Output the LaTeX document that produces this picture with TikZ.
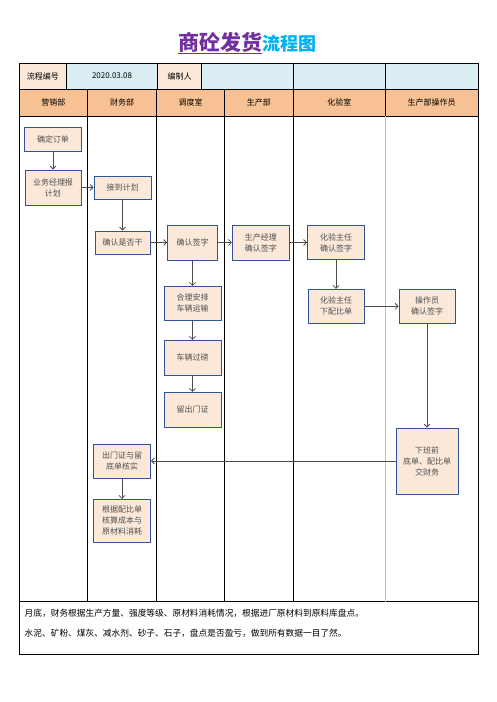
\documentclass[tikz,border=0pt]{standalone}
\usepackage{fontspec}
\setmainfont{Noto Sans CJK SC}
\usepackage{tikz}
\usepackage{xcolor}
\usetikzlibrary{arrows.meta}

\definecolor{titlepurple}{HTML}{7030A0}
\definecolor{titleblue}{HTML}{00B0F0}
\definecolor{headpeach}{HTML}{F8C193}
\definecolor{cellpeach}{HTML}{FCE9DA}
\definecolor{cellblue}{HTML}{DAEEF3}
\definecolor{boxfill}{HTML}{FBE8D9}
\definecolor{boxline}{HTML}{2F5597}
\definecolor{boxtext}{HTML}{505050}

\tikzset{
    box/.style={draw=boxline, fill=boxfill, line width=0.8pt, text=boxtext, font=\fontsize{8}{11}\selectfont, align=center, inner sep=1pt},
    flow/.style={draw=black!70, line width=0.8pt, -{Straight Barb[length=3pt,width=6pt]}},
    cell/.style={font=\fontsize{8}{10}\selectfont, inner sep=0pt},
    note/.style={font=\fontsize{8.7}{10}\selectfont, inner sep=0pt, anchor=west}
}

\begin{document}
\begin{tikzpicture}[x=1pt, y=-1pt]
                \useasboundingbox (0,0) rectangle (496,702);

                \node[] (title) at (247,43) {\textcolor{titlepurple}{\fontsize{21}{21}\selectfont\bfseries\underline{商砼发货}}\textcolor{titleblue}{\fontsize{18}{18}\selectfont\bfseries 流程图}};

                \fill[cellpeach] (19.5,63) rectangle (66.5,89) (157.5,63) rectangle (201.5,89);
                \fill[cellblue] (66.5,63) rectangle (157.5,89) (201.5,63) rectangle (478,89);
                \fill[headpeach] (19.5,89) rectangle (478,116);
                \draw[line width=0.9pt] (19.5,63) rectangle (478,654)
                (19.5,89) -- (478,89)
                (19.5,116) -- (478,116)
                (19.5,601.5) -- (478,601.5);
                \foreach \x in {66.5,157.5,201.5,293.3,385.5}
                    \draw[line width=0.9pt] (\x,63) -- (\x,89);
                \foreach \x in {87.3,156.7,224.3,293.3}
                    \draw[line width=0.9pt] (\x,89) -- (\x,601.5);
                \draw[line width=0.9pt] (385.5,89) -- (385.5,116);
                \draw[black!25, line width=0.9pt] (385.5,116) -- (385.5,601.5);

                \node[cell] (no) at (43,76) {流程编号};
                \node[cell] (date) at (112,76) {2020.03.08};
                \node[cell] (maker) at (179.5,76) {编制人};
                \node[cell] (h1) at (53.4,102.5) {营销部};
                \node[cell] (h2) at (122,102.5) {财务部};
                \node[cell] (h3) at (190.5,102.5) {调度室};
                \node[cell] (h4) at (258.8,102.5) {生产部};
                \node[cell] (h5) at (339.4,102.5) {化验室};
                \node[cell] (h6) at (431.7,102.5) {生产部操作员};

                \node[box, minimum width=57pt, minimum height=24pt] (a1) at (53,139.3) {确定订单};
                \node[box, minimum width=56pt, minimum height=35pt] (a2) at (53,187.5) {业务经理报\\计划};
                \node[box, minimum width=57pt, minimum height=23pt] (b1) at (122.5,187.5) {接到计划};
                \node[box, minimum width=55pt, minimum height=23pt] (b2) at (122.5,242.5) {确认是否干};
                \node[box, minimum width=50pt, minimum height=35pt] (c1) at (192.5,242.5) {确认签字};
                \node[box, minimum width=57pt, minimum height=35pt] (d1) at (260.8,242.5) {生产经理\\确认签字};
                \node[box, minimum width=57pt, minimum height=34pt] (e1) at (336,242.5) {化验主任\\确认签字};
                \node[box, minimum width=57pt, minimum height=34pt] (c2) at (192.5,303.3) {合理安排\\车辆运输};
                \node[box, minimum width=56pt, minimum height=34pt] (e2) at (336,306.3) {化验主任\\下配比单};
                \node[box, minimum width=56pt, minimum height=34pt] (f1) at (427,306.3) {操作员\\确认签字};
                \node[box, minimum width=57pt, minimum height=35pt] (c3) at (192.5,357.8) {车辆过磅};
                \node[box, minimum width=57pt, minimum height=35pt] (c4) at (192.5,409.8) {留出门证};
                \node[box, minimum width=62pt, minimum height=66pt] (f2) at (427,461) {下班前\\底单、配比单\\交财务};
                \node[box, minimum width=57pt, minimum height=34pt] (b3) at (122,461) {出门证与留\\底单核实};
                \node[box, minimum width=57pt, minimum height=43pt] (b4) at (122,520.8) {根据配比单\\核算成本与\\原材料消耗};

                \node[note] (n1) at (24.5,613.5) {月底，财务根据生产方量、强度等级、原材料消耗情况，根据进厂原材料到原料库盘点。};
                \node[note] (n2) at (24.5,633) {水泥、矿粉、煤灰、减水剂、砂子、石子，盘点是否盈亏，做到所有数据一目了然。};

                \draw[flow]
                (a1) edge (a2)
                (a2) edge (b1)
                (b1) edge (b2)
                (b2) edge (c1)
                (c1) edge (d1)
                (d1) edge (e1)
                (e1) edge (e2)
                (e2) edge (f1)
                (c1) edge (c2)
                (c2) edge (c3)
                (c3) edge (c4)
                (f1) edge (f2)
                (f2) edge (b3)
                (b3) edge (b4);
            \end{tikzpicture}
\end{document}
